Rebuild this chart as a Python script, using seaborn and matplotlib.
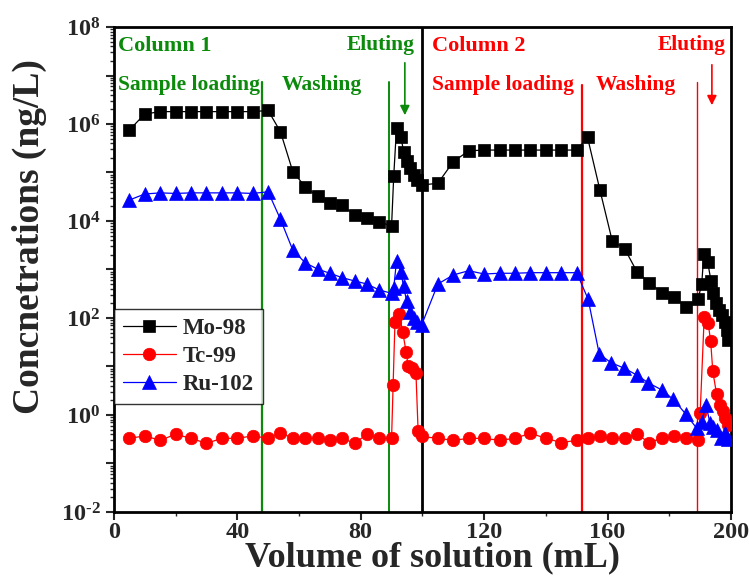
import matplotlib
matplotlib.use("Agg")
import numpy as np
import pandas as pd
import seaborn as sns
import matplotlib.pyplot as plt
from matplotlib.ticker import LogLocator, FuncFormatter, MultipleLocator, NullFormatter

# ---- data (concentrations in ng/L vs. volume in mL) ----
mo_x = [5, 10, 15, 20, 25, 30, 35, 40, 45, 50,
        54, 58, 62, 66, 70, 74, 78, 82, 86, 90,
        90.7, 91.6, 93.0, 93.9, 94.9, 96.0, 97.3, 98.4, 99.7,
        105, 110, 115, 120, 125, 130, 135, 140, 145, 150,
        153.5, 157.5, 161.5, 165.5, 169.5, 173.5, 177.5, 181.5, 185.5, 189.3,
        190.5, 191.2, 192.4, 193.5, 194.2, 195.1, 196.2, 197.2, 198.0, 198.6, 199.1]
mo_y = [7.5e5, 1.6e6, 1.8e6, 1.8e6, 1.8e6, 1.8e6, 1.8e6, 1.8e6, 1.8e6, 1.9e6,
        6.9e5, 1.04e5, 5.1e4, 3.2e4, 2.3e4, 2.1e4, 1.33e4, 1.17e4, 9.4e3, 8.0e3,
        8.5e4, 8.4e5, 5.5e5, 2.7e5, 1.75e5, 1.22e5, 8.9e4, 7.0e4, 5.5e4,
        6.0e4, 1.67e5, 2.8e5, 2.9e5, 2.9e5, 2.9e5, 2.9e5, 2.9e5, 2.9e5, 2.9e5,
        5.3e5, 4.4e4, 3.9e3, 2.7e3, 900, 535, 333, 267, 171, 243,
        500, 2090, 1450, 590, 333, 207, 146, 115, 84, 57, 35]

tc_x = [5, 10, 15, 20, 25, 30, 35, 40, 45, 50,
        54, 58, 62, 66, 70, 74, 78, 82, 86, 90,
        90.5, 91.1, 92.5, 93.6, 94.7, 95.4, 96.5, 97.9, 98.6, 99.7,
        105, 110, 115, 120, 125, 130, 135, 140, 145, 150,
        153.5, 157.5, 161.5, 165.5, 169.5, 173.5, 177.5, 181.5, 185.5, 189.3,
        190.0, 191.3, 192.6, 193.4, 194.1, 195.3, 196.4, 197.3, 198.2, 199.1]
tc_y = [0.33, 0.37, 0.30, 0.40, 0.33, 0.26, 0.33, 0.33, 0.37, 0.33,
        0.43, 0.33, 0.33, 0.33, 0.30, 0.33, 0.26, 0.40, 0.33, 0.33,
        4.2, 84, 121, 52, 20, 10.2, 9.2, 7.2, 0.47, 0.36,
        0.33, 0.30, 0.33, 0.33, 0.30, 0.33, 0.42, 0.33, 0.27, 0.30,
        0.33, 0.37, 0.33, 0.33, 0.40, 0.27, 0.33, 0.36, 0.33, 0.30,
        1.1, 103, 78, 33, 7.9, 2.75, 1.6, 1.2, 0.85, 0.63]

ru_x = [5, 10, 15, 20, 25, 30, 35, 40, 45, 50,
        54, 58, 62, 66, 70, 74, 78, 82, 86, 90,
        90.7, 91.6, 93.0, 93.9, 94.9, 96.0, 97.3, 98.4, 99.7,
        105, 110, 115, 120, 125, 130, 135, 140, 145, 150,
        153.7, 157.3, 161.1, 165.4, 169.4, 173.2, 177.5, 181.3, 185.3, 188.9,
        190.5, 191.9, 193.2, 194.2, 195.3, 196.9, 198.0, 199.1]
ru_y = [2.7e4, 3.6e4, 3.8e4, 3.7e4, 3.8e4, 3.8e4, 3.8e4, 3.8e4, 3.7e4, 4.0e4,
        1.08e4, 2.5e3, 1.38e3, 1.02e3, 836, 678, 580, 502, 378, 323,
        417, 1500, 890, 447, 219, 132, 100, 83, 71,
        502, 771, 944, 807, 836, 836, 859, 859, 859, 859,
        243, 18.1, 12.0, 9.2, 6.7, 4.6, 3.3, 2.1, 1.05, 0.53,
        0.73, 1.6, 0.67, 0.57, 0.49, 0.33, 0.42, 0.32]

series_names = ["Mo-98", "Tc-99", "Ru-102"]
x_ticks = [0, 40, 80, 120, 160, 200]

# ---- style ----
sns.set_theme(style="ticks")
plt.rcParams['font.family'] = ['Liberation Serif', 'DejaVu Serif']
plt.rcParams['font.weight'] = 'bold'
plt.rcParams['mathtext.fontset'] = 'custom'
plt.rcParams['mathtext.rm'] = 'Liberation Serif:bold'
plt.rcParams['mathtext.bf'] = 'Liberation Serif:bold'
plt.rcParams['mathtext.it'] = 'Liberation Serif:bold'

GREEN = '#0b8a0b'
RED = '#ff0000'
BLUE = '#0000ff'

fig = plt.figure(figsize=(7.49, 5.77), dpi=100)
ax = fig.add_axes([0.152, 0.1127, 0.824, 0.8405])

frames = []
for name, xs, ys in zip(series_names, [mo_x, tc_x, ru_x], [mo_y, tc_y, ru_y]):
    frames.append(pd.DataFrame({"volume": xs, "conc": ys, "isotope": name}))
df = pd.concat(frames, ignore_index=True)

styles = {
    "Mo-98": dict(color='black', marker='s', ms=8),
    "Tc-99": dict(color=RED, marker='o', ms=9),
    "Ru-102": dict(color=BLUE, marker='^', ms=9.5),
}
for name in series_names:
    sub = df[df.isotope == name]
    st = styles[name]
    sns.lineplot(data=sub, x="volume", y="conc", ax=ax, sort=False, estimator=None,
                 color=st['color'], marker=st['marker'], markersize=st['ms'],
                 markeredgecolor=st['color'], markeredgewidth=0.5,
                 linewidth=0.9, label=name, zorder=3)

ax.set_yscale('log')
ax.set_xlim(0, 200)
ax.set_ylim(1e-2, 1e8)

# stage boundaries
ytop = (512 - 82) / 485
ax.axvline(48, ymin=0, ymax=ytop, color=GREEN, lw=1.6, zorder=2)
ax.axvline(89.2, ymin=0, ymax=ytop, color=GREEN, lw=1.4, zorder=2)
ax.axvline(100, color='black', lw=2.0, zorder=2)
ax.axvline(151.8, ymin=0, ymax=(512 - 85) / 485, color=RED, lw=1.6, zorder=2)
ax.axvline(188.9, ymin=0, ymax=ytop, color=RED, lw=1.0, zorder=2)

# stage labels
tr = ax.get_xaxis_transform()
fs_col = 16
fs_stage = 15.5
ax.text(1.3, 0.96, "Column 1", color=GREEN, fontsize=fs_col, fontweight='bold', transform=tr, va='center', ha='left')
ax.text(1.3, 0.88, "Sample loading", color=GREEN, fontsize=fs_stage, fontweight='bold', transform=tr, va='center', ha='left')
ax.text(54.5, 0.88, "Washing", color=GREEN, fontsize=fs_stage, fontweight='bold', transform=tr, va='center', ha='left')
ax.text(97.6, 0.962, "Eluting", color=GREEN, fontsize=fs_stage, fontweight='bold', transform=tr, va='center', ha='right')
ax.text(103, 0.96, "Column 2", color=RED, fontsize=fs_col, fontweight='bold', transform=tr, va='center', ha='left')
ax.text(103, 0.88, "Sample loading", color=RED, fontsize=fs_stage, fontweight='bold', transform=tr, va='center', ha='left')
ax.text(156.2, 0.88, "Washing", color=RED, fontsize=fs_stage, fontweight='bold', transform=tr, va='center', ha='left')
ax.text(198.3, 0.962, "Eluting", color=RED, fontsize=fs_stage, fontweight='bold', transform=tr, va='center', ha='right')

ax.annotate("", xy=(94.3, (512 - 118) / 485), xytext=(94.3, (512 - 60) / 485), xycoords=tr, textcoords=tr,
            arrowprops=dict(arrowstyle='-|>', color=GREEN, lw=1.2, mutation_scale=14))
ax.annotate("", xy=(193.8, (512 - 108) / 485), xytext=(193.8, (512 - 62) / 485), xycoords=tr, textcoords=tr,
            arrowprops=dict(arrowstyle='-|>', color=RED, lw=1.2, mutation_scale=14))

# axes formatting
ax.set_xticks(x_ticks)
ax.xaxis.set_minor_locator(MultipleLocator(20))
ax.yaxis.set_major_locator(LogLocator(base=10, numticks=20))
ax.yaxis.set_minor_locator(LogLocator(base=10, subs=np.arange(2, 10), numticks=100))
ax.yaxis.set_minor_formatter(NullFormatter())

def ylab(v, pos):
    e = int(round(np.log10(v)))
    if e % 2:
        return ""
    exp = str(abs(e)) if e >= 0 else "\u2010" + str(abs(e))
    return r"$\mathbf{10^{%s}}$" % exp

ax.yaxis.set_major_formatter(FuncFormatter(ylab))
ax.tick_params(axis='both', which='major', direction='out', length=6, width=1.5, labelsize=17.5,
               top=False, right=False)
ax.tick_params(axis='x', which='major', pad=1)
ax.tick_params(axis='both', which='minor', direction='out', length=3, width=1.0, top=False, right=False)
for lab in ax.get_xticklabels():
    lab.set_fontweight('bold')

for sp in ax.spines.values():
    sp.set_linewidth(2.0)
    sp.set_color('black')

ax.set_xlabel("Volume of solution (mL)", fontsize=26, fontweight='bold', va='center')
ax.xaxis.set_label_coords((433 - 114) / 617, (512 - 558) / 485)
ax.set_ylabel("Concnetrations (ng/L)", fontsize=27, fontweight='bold', va='center')
ax.yaxis.set_label_coords(-(114 - 30) / 617, (512 - 237) / 485)

leg = ax.legend(loc='lower left', bbox_to_anchor=(0.0, (512 - 404) / 485), frameon=True, fancybox=False,
                fontsize=16.5, handlelength=2.3, handletextpad=0.3, borderpad=0.4,
                labelspacing=0.3, borderaxespad=0)
leg.get_frame().set_edgecolor('black')
leg.get_frame().set_linewidth(1.0)
for t in leg.get_texts():
    t.set_fontweight('bold')

fig.savefig("out.png", dpi=100)
